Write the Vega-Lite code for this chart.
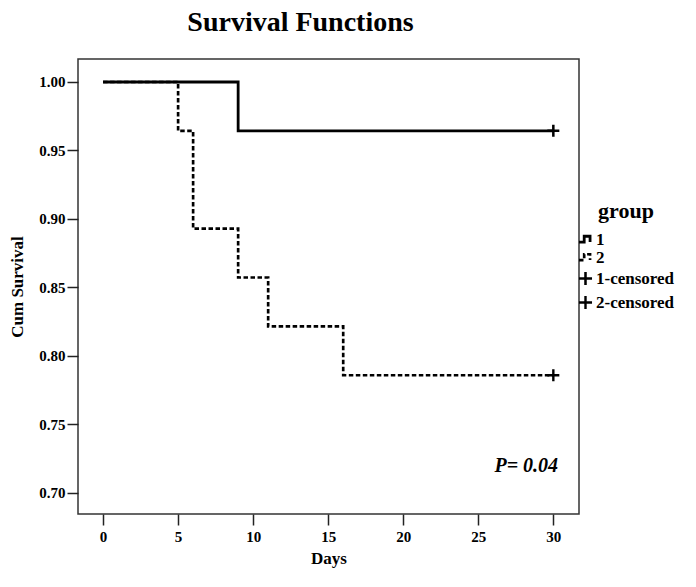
{
  "$schema": "https://vega.github.io/schema/vega-lite/v6.json",
  "width": 501,
  "height": 455,
  "autosize": {"type": "none"},
  "padding": {"left": 78, "top": 59, "right": 117, "bottom": 73},
  "background": "white",
  "title": {
    "text": "Survival Functions",
    "font": "Liberation Serif",
    "fontSize": 28,
    "fontWeight": "bold",
    "color": "black",
    "anchor": "middle",
    "dx": -28,
    "offset": 22
  },
  "datasets": {
    "curves": [
      {"key": "1", "day": 0, "surv": 1.0},
      {"key": "1", "day": 9, "surv": 0.9643},
      {"key": "1", "day": 30, "surv": 0.9643},
      {"key": "2", "day": 0, "surv": 1.0},
      {"key": "2", "day": 5, "surv": 0.9643},
      {"key": "2", "day": 6, "surv": 0.8929},
      {"key": "2", "day": 9, "surv": 0.8571},
      {"key": "2", "day": 11, "surv": 0.8214},
      {"key": "2", "day": 16, "surv": 0.7857},
      {"key": "2", "day": 30, "surv": 0.7857}
    ],
    "censored": [
      {"key": "1-censored", "day": 30, "surv": 0.9643},
      {"key": "2-censored", "day": 30, "surv": 0.7857}
    ],
    "note": [
      {"label": "P= 0.04", "day": 28.2, "surv": 0.7196}
    ]
  },
  "config": {
    "view": {"stroke": "#333333", "strokeWidth": 1.5},
    "axis": {
      "grid": false,
      "domain": false,
      "tickColor": "#222222",
      "tickSize": 11,
      "tickWidth": 1.5,
      "labelFont": "Liberation Serif",
      "labelFontWeight": "bold",
      "labelFontSize": 15,
      "labelColor": "black",
      "titleFont": "Liberation Serif",
      "titleFontWeight": "bold",
      "titleFontSize": 17,
      "titleColor": "black"
    },
    "legend": {
      "titleFont": "Liberation Serif",
      "titleFontSize": 22,
      "titleFontWeight": "bold",
      "titleColor": "black",
      "titleAnchor": "middle",
      "titlePadding": 8,
      "labelFont": "Liberation Serif",
      "labelFontSize": 17,
      "labelFontWeight": "bold",
      "labelColor": "black",
      "labelOffset": 2,
      "symbolSize": 170,
      "symbolStrokeColor": "black",
      "symbolFillColor": "transparent",
      "rowPadding": 0
    }
  },
  "layer": [
    {
      "data": {"name": "curves"},
      "mark": {"type": "line", "interpolate": "step-after", "color": "black", "strokeCap": "butt"},
      "encoding": {
        "x": {
          "field": "day", "type": "quantitative",
          "scale": {"domain": [-1.67, 31.71], "nice": false, "zero": false},
          "axis": {"values": [0, 5, 10, 15, 20, 25, 30], "title": "Days", "labelPadding": 4, "titlePadding": 6}
        },
        "y": {
          "field": "surv", "type": "quantitative",
          "scale": {"domain": [0.6843, 1.0168], "nice": false, "zero": false},
          "axis": {"values": [0.7, 0.75, 0.8, 0.85, 0.9, 0.95, 1.0], "format": ".2f", "title": "Cum Survival", "labelPadding": 2, "titlePadding": 12}
        },
        "detail": {"field": "key"},
        "strokeDash": {
          "field": "key", "type": "nominal",
          "scale": {"domain": ["1", "2", "1-censored", "2-censored"], "range": [[1, 0], [4.5, 2.5], [1, 0], [1, 0]]},
          "legend": {"title": "group", "orient": "none", "legendX": 499, "legendY": 142}
        },
        "strokeWidth": {
          "field": "key", "type": "nominal",
          "scale": {"domain": ["1", "2", "1-censored", "2-censored"], "range": [2.8, 2.4, 1.2, 1.2]},
          "legend": {"title": "group", "orient": "none", "legendX": 499, "legendY": 142}
        }
      }
    },
    {
      "data": {"name": "censored"},
      "mark": {"type": "point", "filled": false, "stroke": "black", "opacity": 1},
      "encoding": {
        "x": {"field": "day", "type": "quantitative"},
        "y": {"field": "surv", "type": "quantitative"},
        "shape": {
          "field": "key", "type": "nominal",
          "scale": {
            "domain": ["1", "2", "1-censored", "2-censored"],
            "range": [
              "M-1,0.4H-0.2V-0.5H0.7V0.4",
              "M-1,0.4H-0.2V-0.5H0.7V0.4",
              "M-1,0H1M0,-1V1",
              "M-1,0H1M0,-1V1"
            ]
          },
          "legend": {"title": "group", "orient": "none", "legendX": 499, "legendY": 142}
        },
        "strokeDash": {
          "field": "key", "type": "nominal",
          "legend": {"title": "group", "orient": "none", "legendX": 499, "legendY": 142}
        },
        "strokeWidth": {
          "field": "key", "type": "nominal",
          "legend": {"title": "group", "orient": "none", "legendX": 499, "legendY": 142}
        },
        "size": {"value": 144}
      }
    },
    {
      "data": {"name": "note"},
      "mark": {"type": "text", "font": "Liberation Serif", "fontSize": 20, "fontWeight": "bold", "fontStyle": "italic", "color": "black"},
      "encoding": {
        "x": {"field": "day", "type": "quantitative"},
        "y": {"field": "surv", "type": "quantitative"},
        "text": {"field": "label"}
      }
    }
  ]
}
